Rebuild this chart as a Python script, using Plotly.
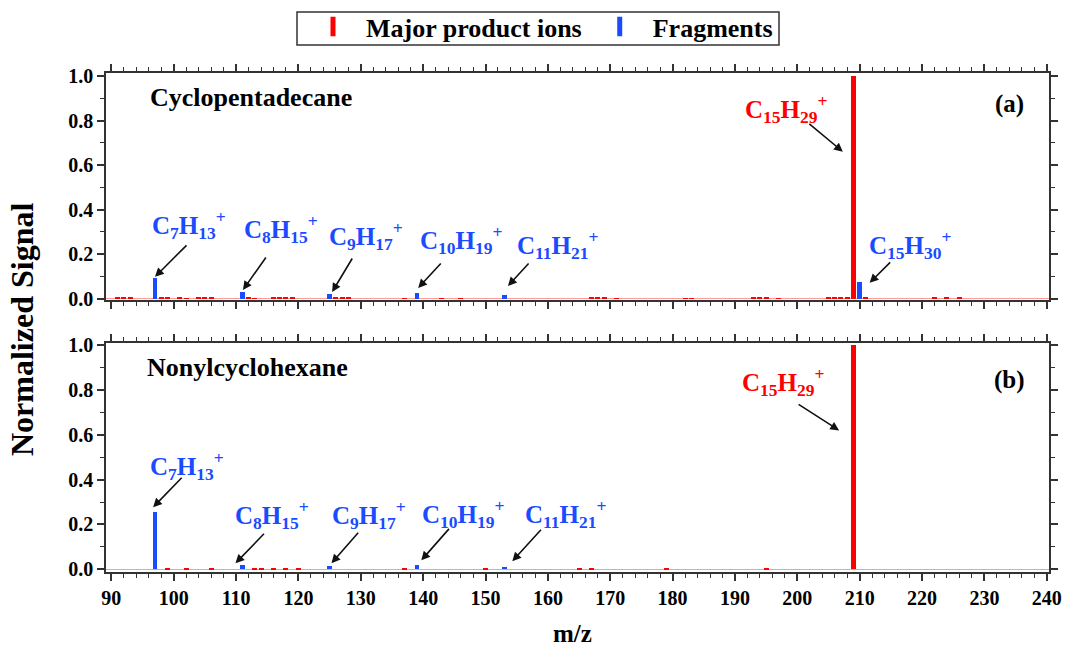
import plotly.graph_objects as go

# ---------------- data ----------------
# Panel (a) Cyclopentadecane
a_major_mz = [209]
a_major_val = [1.0]
a_frag_mz = [97, 111, 125, 139, 153, 210]
a_frag_val = [0.094, 0.032, 0.022, 0.027, 0.018, 0.077]
a_noise_mz = [91, 92, 93, 98, 99, 101, 102, 104, 105, 106, 112, 113, 116, 117, 118, 119,
              126, 127, 128, 137, 143, 146, 167, 168, 169, 171, 182, 183, 193, 194, 195,
              197, 205, 206, 207, 208, 211, 222, 224, 226]
a_noise_val = [0.005, 0.008, 0.006, 0.006, 0.004, 0.004, 0.003, 0.007, 0.006, 0.008, 0.008, 0.003,
               0.009, 0.008, 0.004, 0.005, 0.007, 0.005, 0.004, 0.003, 0.003, 0.003, 0.005, 0.007,
               0.004, 0.003, 0.003, 0.003, 0.004, 0.004, 0.007, 0.003, 0.004, 0.006, 0.008, 0.009,
               0.005, 0.004, 0.004, 0.005]

# Panel (b) Nonylcyclohexane
b_major_mz = [209]
b_major_val = [1.0]
b_frag_mz = [97, 111, 125, 139, 153]
b_frag_val = [0.254, 0.018, 0.015, 0.018, 0.010]
b_noise_mz = [99, 102, 106, 113, 114, 116, 118, 120, 137, 150, 165, 167, 179, 195]
b_noise_val = [0.003, 0.003, 0.002, 0.004, 0.003, 0.006, 0.003, 0.003, 0.002, 0.002, 0.003,
               0.004, 0.002, 0.006]

# Ion labels: text, colour, label position (x, y data), arrow head (x, y data), arrow tail offset (px)
a_labels = ["C<sub>7</sub>H<sub>13</sub><sup>+</sup>", "C<sub>8</sub>H<sub>15</sub><sup>+</sup>",
            "C<sub>9</sub>H<sub>17</sub><sup>+</sup>", "C<sub>10</sub>H<sub>19</sub><sup>+</sup>",
            "C<sub>11</sub>H<sub>21</sub><sup>+</sup>", "C<sub>15</sub>H<sub>30</sub><sup>+</sup>",
            "C<sub>15</sub>H<sub>29</sub><sup>+</sup>"]
a_label_color = ["blue", "blue", "blue", "blue", "blue", "blue", "red"]
a_label_x = [96.2, 111.0, 124.6, 139.2, 154.7, 211.2, 191.3]
a_label_y = [0.332, 0.314, 0.283, 0.265, 0.242, 0.242, 0.852]
a_head_x = [97.0, 111.1, 125.4, 139.2, 153.6, 211.6, 207.3]
a_head_y = [0.099, 0.040, 0.031, 0.049, 0.058, 0.072, 0.66]
a_tail_dx = [33, 24, 21, 24, 22, 22, -35]
a_tail_dy = [-33, -34, -35, -26, -24, -22, -29]

b_labels = ["C<sub>7</sub>H<sub>13</sub><sup>+</sup>", "C<sub>8</sub>H<sub>15</sub><sup>+</sup>",
            "C<sub>9</sub>H<sub>17</sub><sup>+</sup>", "C<sub>10</sub>H<sub>19</sub><sup>+</sup>",
            "C<sub>11</sub>H<sub>21</sub><sup>+</sup>", "C<sub>15</sub>H<sub>29</sub><sup>+</sup>"]
b_label_color = ["blue", "blue", "blue", "blue", "blue", "red"]
b_label_x = [95.9, 109.5, 125.1, 139.5, 156.0, 190.8]
b_label_y = [0.46, 0.241, 0.241, 0.246, 0.246, 0.835]
b_head_x = [96.7, 109.9, 125.3, 139.7, 154.3, 206.7]
b_head_y = [0.277, 0.027, 0.027, 0.040, 0.036, 0.62]
b_tail_dx = [30, 30, 28, 29, 30, -42]
b_tail_dy = [-31, -31, -32, -33, -33, -27]

legend_names = ["Major product ions", "Fragments"]
x_ticks = list(range(90, 241, 10))
y_ticks = [0.0, 0.2, 0.4, 0.6, 0.8, 1.0]

RED = "#ff0000"
BLUE = "#1a4bff"
COLORS = {"red": RED, "blue": BLUE}
FONT = "Liberation Serif"
NB = "\u00a0"

fig = go.Figure()

def add_panel(xa, ya, major_mz, major_val, frag_mz, frag_val, noise_mz, noise_val):
    fig.add_trace(go.Bar(x=noise_mz, y=noise_val, width=0.8, marker_color=RED,
                         marker_line_width=0, showlegend=False, xaxis=xa, yaxis=ya))
    fig.add_trace(go.Bar(x=major_mz, y=major_val, width=0.8, marker_color=RED,
                         marker_line_width=0, showlegend=False, xaxis=xa, yaxis=ya))
    fig.add_trace(go.Bar(x=frag_mz, y=frag_val, width=0.75, marker_color=BLUE,
                         marker_line_width=0, showlegend=False, xaxis=xa, yaxis=ya))

add_panel("x", "y", a_major_mz, a_major_val, a_frag_mz, a_frag_val, a_noise_mz, a_noise_val)
add_panel("x2", "y2", b_major_mz, b_major_val, b_frag_mz, b_frag_val, b_noise_mz, b_noise_val)

# legend entries
fig.add_trace(go.Scatter(x=[None], y=[None], mode="markers", name=NB * 2 + legend_names[0] + NB * 2,
                         marker=dict(symbol="line-ns", size=14, color=RED,
                                     line=dict(width=5, color=RED))))
fig.add_trace(go.Scatter(x=[None], y=[None], mode="markers", name=NB * 2 + legend_names[1],
                         marker=dict(symbol="line-ns", size=14, color=BLUE,
                                     line=dict(width=5, color=BLUE))))

xcommon = dict(range=[89.14, 240.36], tickvals=x_ticks, ticks="outside", ticklen=7, tickwidth=1.5,
               tickcolor="#333", showline=True, linecolor="#333", linewidth=1.5, mirror="ticks",
               showgrid=False, zeroline=False,
               minor=dict(dtick=2, tick0=90, ticks="outside", ticklen=4, tickwidth=1.2, tickcolor="#333"),
               tickfont=dict(family=FONT, size=20, color="black", weight="bold"))
ycommon = dict(tickvals=y_ticks, tickformat=".1f", ticks="outside", ticklen=7, tickwidth=1.5,
               tickcolor="#333", showline=True, linecolor="#333", linewidth=1.5, mirror="ticks",
               showgrid=False, zeroline=True, zerolinecolor="#ff9a9a", zerolinewidth=1,
               minor=dict(dtick=0.1, tick0=0, ticks="outside", ticklen=4, tickwidth=1.2, tickcolor="#333"),
               tickfont=dict(family=FONT, size=20, color="black", weight="bold"))

fig.update_layout(
    width=1069, height=653,
    margin=dict(l=106, r=20, t=73, b=81, autoexpand=False),
    paper_bgcolor="white", plot_bgcolor="white",
    barmode="overlay", bargap=0,
    font=dict(family=FONT, color="black"),
    xaxis=dict(domain=[0, 1], anchor="y", showticklabels=False, **xcommon),
    yaxis=dict(domain=[0.5451, 1], anchor="x", range=[-0.005, 1.013], **ycommon),
    xaxis2=dict(domain=[0, 1], anchor="y2", showticklabels=True, **xcommon),
    yaxis2=dict(domain=[0, 0.4589], anchor="x2", range=[-0.012, 1.01], **ycommon),
    legend=dict(orientation="h", x=(313 - 106) / 943, xanchor="left", y=1.14, yanchor="top",
                borderwidth=0, bgcolor="rgba(0,0,0,0)",
                font=dict(family=FONT, size=26, color="black", weight="bold")),
    showlegend=True,
    shapes=[dict(type="rect", xref="paper", yref="paper",
                 x0=(297 - 106) / 943, x1=(779 - 106) / 943,
                 y0=1 + (73 - 45) / 499, y1=1 + (73 - 12) / 499,
                 line=dict(color="#333", width=1.5), fillcolor="rgba(0,0,0,0)")],
)

ann = []
# axis titles
ann.append(dict(text="<b>Normalized Signal</b>", xref="paper", yref="paper", x=(22 - 106) / 943,
                y=(572 - 330) / 499, xanchor="center", yanchor="middle",
                textangle=-90, showarrow=False, font=dict(family=FONT, size=32, color="black")))
ann.append(dict(text="<b>m/z</b>", xref="paper", yref="paper", x=(572 - 106) / 943,
                y=(572 - 633) / 499, xanchor="center", yanchor="middle",
                showarrow=False, font=dict(family=FONT, size=25, color="black")))
# panel titles
ann.append(dict(text="<b>Cyclopentadecane</b>", xref="x domain", yref="y domain", x=0.0445, y=0.89,
                xanchor="left", yanchor="middle", showarrow=False, font=dict(family=FONT, size=26)))
ann.append(dict(text="<b>Nonylcyclohexane</b>", xref="x2 domain", yref="y2 domain", x=0.041, y=0.891,
                xanchor="left", yanchor="middle", showarrow=False, font=dict(family=FONT, size=26)))
ann.append(dict(text="<b>(a)</b>", xref="x domain", yref="y domain", x=(1009 - 106) / 943, y=0.862,
                xanchor="center", yanchor="middle", showarrow=False, font=dict(family=FONT, size=25)))
ann.append(dict(text="<b>(b)</b>", xref="x2 domain", yref="y2 domain", x=(1009 - 106) / 943, y=0.84,
                xanchor="center", yanchor="middle", showarrow=False, font=dict(family=FONT, size=25)))

def add_labels(xr, yr, labels, colors, lx, ly, hx, hy, tdx, tdy):
    for i in range(len(labels)):
        ann.append(dict(text="<b>" + labels[i] + "</b>", xref=xr, yref=yr, x=lx[i], y=ly[i],
                        xanchor="left", yanchor="middle", showarrow=False,
                        font=dict(family=FONT, size=25, color=COLORS[colors[i]])))
        ann.append(dict(text="", xref=xr, yref=yr, x=hx[i], y=hy[i], ax=tdx[i], ay=tdy[i],
                        showarrow=True, arrowhead=2, arrowsize=1.1, arrowwidth=1.6,
                        arrowcolor="#111"))

add_labels("x", "y", a_labels, a_label_color, a_label_x, a_label_y, a_head_x, a_head_y, a_tail_dx, a_tail_dy)
add_labels("x2", "y2", b_labels, b_label_color, b_label_x, b_label_y, b_head_x, b_head_y, b_tail_dx, b_tail_dy)

fig.update_layout(annotations=ann)
fig.write_html("out.html")
